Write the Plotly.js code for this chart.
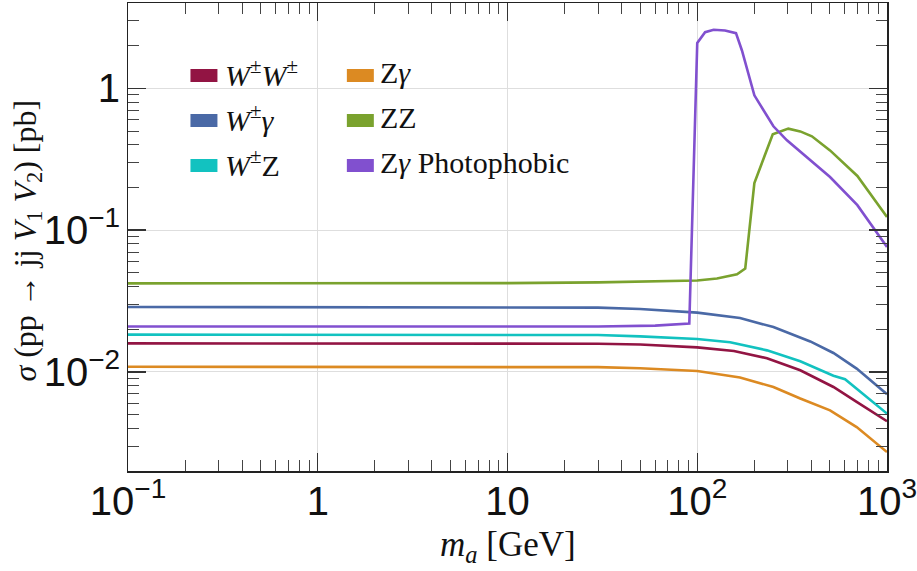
<!DOCTYPE html>
<html>
<head>
<meta charset="utf-8">
<script src="https://cdn.plot.ly/plotly-3.0.1.min.js"></script>
<style>html,body{margin:0;padding:0;background:#fff;}#chart{width:917px;height:571px;}</style>
</head>
<body>
<div id="chart"></div>
<script>
// ---- data ----
const seriesNames = ["W<sup>±</sup>W<sup>±</sup>", "W<sup>±</sup>γ", "W<sup>±</sup>Z", "Zγ", "ZZ", "Zγ Photophobic"];
const legendLabels = [
  "<i>W</i><sup>±</sup><i>W</i><sup>±</sup>",
  "<i>W</i><sup>±</sup><i>γ</i>",
  "<i>W</i><sup>±</sup>Z",
  "Z<i>γ</i>",
  "ZZ",
  "Z<i>γ</i> Photophobic"
];
const colors = ["#921443", "#4a69a6", "#12c2c0", "#dc8a22", "#7aa22e", "#8150cf"];

const wwX = [0.1, 1, 10, 30, 50, 70, 100, 156, 233, 349, 522, 692, 1000];
const wwY = [0.0159, 0.0159, 0.0159, 0.0158, 0.0156, 0.0153, 0.0149, 0.01404, 0.01248, 0.01026, 0.00783, 0.00614, 0.00449];

const wgX = [0.1, 1, 10, 30, 50, 70, 100, 168, 252, 394, 522, 692, 1000];
const wgY = [0.0287, 0.0287, 0.0287, 0.0284, 0.0278, 0.0271, 0.0262, 0.0240, 0.0207, 0.0164, 0.0136, 0.01055, 0.00695];

const wzX = [0.1, 1, 10, 30, 50, 70, 100, 149, 233, 349, 522, 601, 781, 1000];
const wzY = [0.01832, 0.01832, 0.0183, 0.0182, 0.0178, 0.0175, 0.01706, 0.0162, 0.01419, 0.01189, 0.0094, 0.00887, 0.00665, 0.00508];

const zgX = [0.1, 1, 10, 30, 50, 70, 100, 168, 252, 349, 501, 692, 1000];
const zgY = [0.01087, 0.01087, 0.01086, 0.0108, 0.0106, 0.0104, 0.01014, 0.00912, 0.00783, 0.00649, 0.00536, 0.00408, 0.00272];

const zzX = [0.1, 1, 10, 30, 50, 100, 127, 162, 179, 200, 250, 302, 349, 402, 501, 698, 1000];
const zzY = [0.0421, 0.0421, 0.0423, 0.0428, 0.0432, 0.0441, 0.0456, 0.0488, 0.0535, 0.215, 0.474, 0.520, 0.497, 0.459, 0.365, 0.241, 0.124];

const ppX = [0.1, 1, 10, 30, 60, 90.8, 100, 110, 122, 140, 160, 172, 200, 252, 297, 501, 698, 1000];
const ppY = [0.0209, 0.0209, 0.0209, 0.0209, 0.0212, 0.0219, 2.09, 2.49, 2.59, 2.56, 2.45, 1.85, 0.893, 0.540, 0.430, 0.237, 0.150, 0.076];

// tick labels come out as 10^-1, 1, 10, 10^2, 10^3 (x) and 10^-2, 10^-1, 1 (y) via exponentformat "power"
const xTickText = ["10<sup>−1</sup>", "1", "10", "10<sup>2</sup>", "10<sup>3</sup>"];
const yTickText = ["10<sup>−2</sup>", "10<sup>−1</sup>", "1"];
const xTitle = "<i>m<sub>a</sub></i> [GeV]";
const yTitle = "<i>σ</i> (pp → jj <i>V</i><sub>1</sub> <i>V</i><sub>2</sub>) [pb]";

// ---- build ----
const xs = [wwX, wgX, wzX, zgX, zzX, ppX];
const ys = [wwY, wgY, wzY, zgY, zzY, ppY];
const traces = xs.map((x, i) => ({
  x: x, y: ys[i], type: "scatter", mode: "lines", name: seriesNames[i],
  line: {color: colors[i], width: 2.6}, showlegend: false, hoverinfo: "skip"
}));

const L = 127.5, R = 887, T = 3, B = 471, W = 917, H = 571;
const px = x => (x - L) / (R - L);
const py = y => (B - y) / (B - T);

const shapes = [], annotations = [];
const legendCols = [{sx: 190, tx: 223}, {sx: 346.5, tx: 378}];
const rowY = [75.5, 120.5, 165.5];
for (let i = 0; i < 6; i++) {
  const c = legendCols[Math.floor(i / 3)], r = rowY[i % 3];
  shapes.push({type: "rect", xref: "paper", yref: "paper",
    x0: px(c.sx), x1: px(c.sx + 27), y0: py(r + 6.5), y1: py(r - 6.5),
    fillcolor: colors[i], line: {width: 0}});
  annotations.push({xref: "paper", yref: "paper", x: px(c.tx), y: py(r - 3),
    xanchor: "left", yanchor: "middle", showarrow: false, text: legendLabels[i],
    font: {family: "Liberation Serif", size: 30, color: "#111"}});
}
annotations.push({xref: "paper", yref: "paper", x: px(26), y: py(241),
  xanchor: "center", yanchor: "middle", textangle: -90, showarrow: false,
  text: yTitle, font: {family: "Liberation Serif", size: 32, color: "#111"}});
annotations.push({xref: "paper", yref: "paper", x: px(508), y: py(546),
  xanchor: "center", yanchor: "middle", showarrow: false,
  text: xTitle, font: {family: "Liberation Serif", size: 35, color: "#111"}});

const axisCommon = {
  type: "log", showline: true, linecolor: "#222", linewidth: 1.5, mirror: "allticks",
  ticks: "inside", ticklen: 18, tickwidth: 1.4, tickcolor: "#333",
  showgrid: true, gridcolor: "#dedede", gridwidth: 1, zeroline: false,
  tickfont: {family: "Liberation Sans, Arial", size: 32, color: "#111"},
  tickmode: "linear", tick0: 0, dtick: 1, exponentformat: "power",
  ticklabeloverflow: "allow",
  minor: {dtick: "D1", ticks: "inside", ticklen: 11, tickwidth: 1, tickcolor: "#444", showgrid: false}
};

const layout = {
  width: W, height: H,
  margin: {l: L, r: W - R, t: T, b: H - B, pad: 0},
  paper_bgcolor: "#fff", plot_bgcolor: "#fff",
  showlegend: false,
  xaxis: Object.assign({}, axisCommon, {range: [-1, 3], ticklabelstandoff: -4}),
  yaxis: Object.assign({}, axisCommon, {range: [Math.log10(0.002), Math.log10(4)]}),
  shapes: shapes, annotations: annotations
};

Plotly.newPlot("chart", traces, layout, {displayModeBar: false, staticPlot: true});
</script>
</body>
</html>
